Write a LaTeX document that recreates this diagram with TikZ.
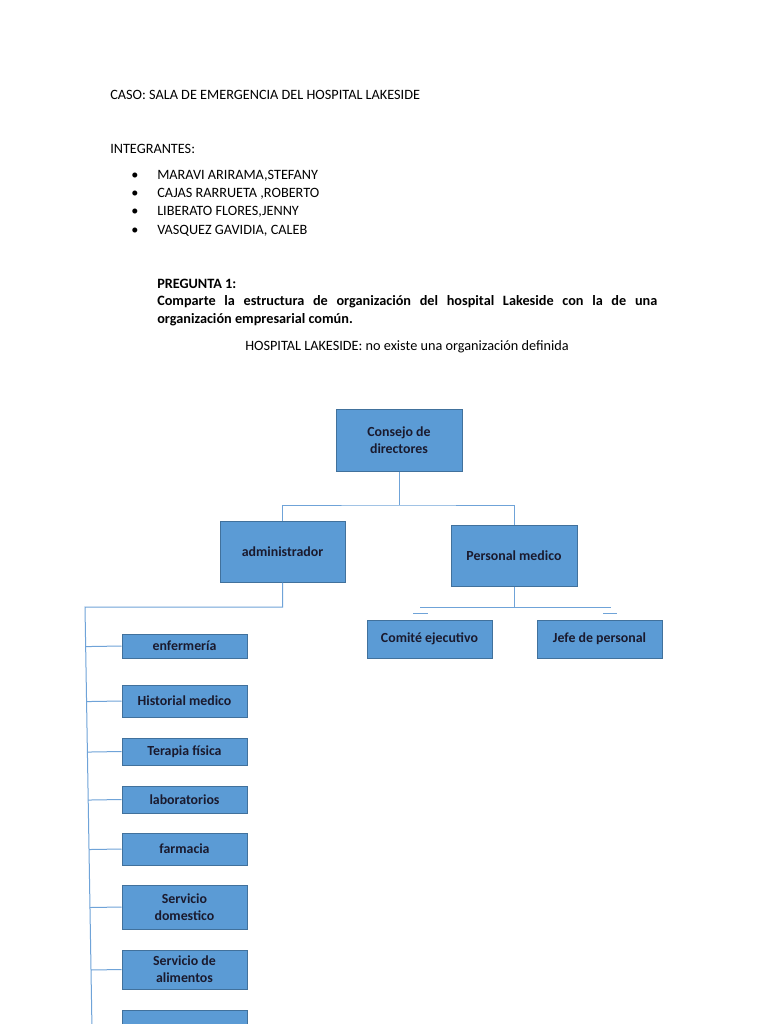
\documentclass[tikz,border=0pt]{standalone}
\usepackage{fontspec}
\setmainfont{Carlito}
\usetikzlibrary{calc}
\definecolor{boxfill}{HTML}{5B9BD5}
\definecolor{boxline}{HTML}{41719C}
\definecolor{linkblue}{HTML}{6FA3D8}
\definecolor{boxtext}{HTML}{1A1A2E}

\begin{document}
\begin{tikzpicture}[x=0.8pt, y=-0.8pt,
    box/.style 2 args={draw=boxline, fill=boxfill, line width=0.8pt, inner sep=1pt,
        minimum width=#1*0.8pt, minimum height=#2*0.8pt, align=center,
        font=\fontsize{11.1}{13.8}\selectfont\bfseries, text=boxtext},
    conn/.style={draw=linkblue, line width=0.8pt},
    txt/.style={anchor=west, inner sep=0pt, font=\fontsize{11.4}{14}\selectfont}]
    \clip (0,0) rectangle (768,1024);
    \fill[white] (0,0) rectangle (768,1024);
    % header text
    \node[txt] (caso) at (110,95) {CASO: SALA DE EMERGENCIA DEL HOSPITAL LAKESIDE};
    \node[txt] (integ) at (110,149) {INTEGRANTES:};
    \foreach \y/\name in {176/{MARAVI ARIRAMA,STEFANY}, 194/{CAJAS RARRUETA ,ROBERTO},
        212/{LIBERATO FLORES,JENNY}, 231/{VASQUEZ GAVIDIA, CALEB}} {
        \node[txt] at (131,\y) {\textbullet};
        \node[txt] at (157,\y) {\name};
    }
    \node[txt, font=\fontsize{11.4}{14}\selectfont\bfseries] (preg) at (157,284) {PREGUNTA 1:};
    \node[anchor=north west, inner sep=0pt, text width=500*0.8pt, align=justify,
        font=\fontsize{11.4}{14.4}\selectfont\bfseries] (comp) at (157,295)
        {Comparte la estructura de organización del hospital Lakeside con la de una \mbox{organización} empresarial común.};
    \node[inner sep=0pt, font=\fontsize{11.4}{14}\selectfont] (hosp) at (407,347)
        {HOSPITAL LAKESIDE: no existe una organización definida};

    % top of the chart
    \node[box={126}{62}] (consejo) at (399,440) {Consejo de\\directores};
    \node[box={125}{61}] (admin) at (282.5,551.5) {administrador};
    \node[box={126}{61}] (pmed) at (514,555.5) {Personal medico};
    \coordinate (j1) at (399,505);
    \draw[conn] (consejo.south) -- (j1);
    \draw[conn] (admin.north) |- (j1) -| (pmed.north);

    % personal medico branch
    \node[box={125}{38}] (comite) at (429.5,639) {Comité ejecutivo};
    \node[box={125}{38}] (jefe) at (599.5,639) {Jefe de personal};
    \coordinate (j2) at (514,607);
    \draw[conn] (pmed.south) -- (j2);
    \draw[conn] (420,607) -- (611,607);
    \draw[conn] (413,613) -- (428,613);
    \draw[conn] (603,613) -- (617,613);

    % administrador branch
    \node[box={125}{24}] (enf) at (184.5,646) {enfermería};
    \node[box={125}{32}] (hist) at (184.5,701) {Historial medico};
    \node[box={125}{27}] (tera) at (184.5,751.5) {Terapia física};
    \node[box={125}{27}] (lab) at (184.5,799.5) {laboratorios};
    \node[box={125}{32}] (farm) at (184.5,849) {farmacia};
    \node[box={125}{44}] (dom) at (184.5,907) {Servicio\\domestico};
    \node[box={125}{39}] (alim) at (184.5,969.5) {Servicio de\\alimentos};
    \node[box={125}{40}] (obs) at (184.5,1030) {};
    \coordinate (t1) at (85,607);
    \coordinate (t2) at (92,1030);
    \draw[conn] (admin.south) |- (t1) -- (t2);
    \foreach \b in {enf,hist,tera,lab,farm,dom,alim}
        \draw[conn] ($(t1)!(\b.west)!(t2)$) -- (\b.west);
\end{tikzpicture}
\end{document}
